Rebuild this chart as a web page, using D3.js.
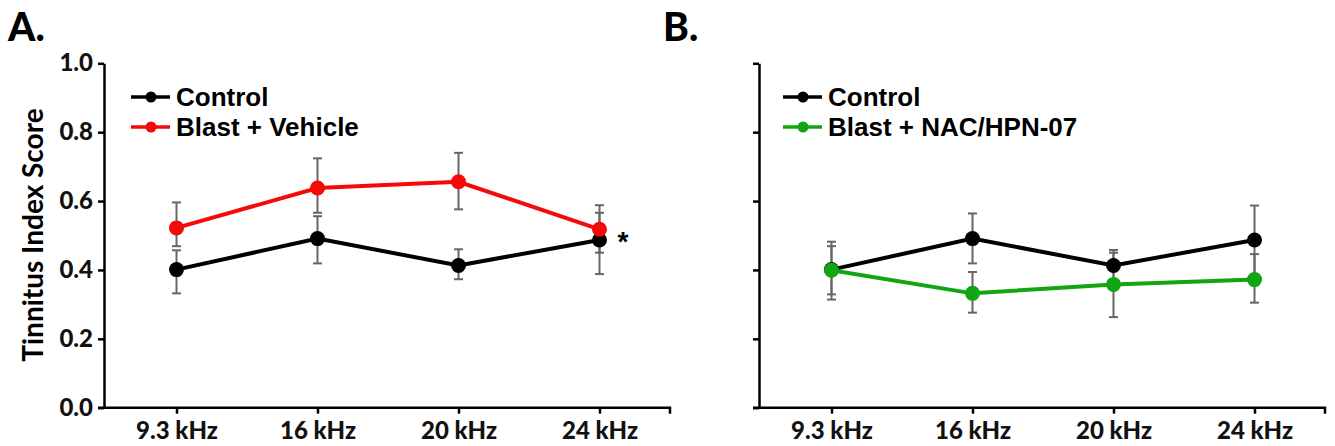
<!DOCTYPE html>
<html>
	<head>
		<meta charset="utf-8">
		<title>Tinnitus Index Score</title>
		<script src="https://d3js.org/d3.v7.min.js"></script>
		<style>
			body { margin: 0; background: #fff; }
			.tick text { font-family: Lato, "DejaVu Sans", sans-serif; font-weight: 900; }
		</style>
	</head>
	<body>
		<div id="chart"></div>
	</body>
	<script>
		// values
		let freqs = ["9.3 kHz", "16 kHz", "20 kHz", "24 kHz"];
		let yTicks = [0, 0.2, 0.4, 0.6, 0.8, 1.0];

		let ctrlA = [0.401, 0.491, 0.413, 0.487];
		let ctrlAHi = [0.457, 0.556, 0.460, 0.566];
		let ctrlALo = [0.332, 0.419, 0.373, 0.388];
		let vehA = [0.522, 0.638, 0.656, 0.518];
		let vehAHi = [0.596, 0.724, 0.740, 0.588];
		let vehALo = [0.469, 0.566, 0.576, 0.450];

		let ctrlB = [0.401, 0.491, 0.413, 0.487];
		let ctrlBHi = [0.469, 0.564, 0.458, 0.587];
		let ctrlBLo = [0.329, 0.419, 0.370, 0.387];
		let nacB = [0.399, 0.332, 0.358, 0.372];
		let nacBHi = [0.482, 0.394, 0.450, 0.446];
		let nacBLo = [0.314, 0.276, 0.263, 0.305];

		var width = 1335, height = 446;
		var svg = d3.select("#chart").append("svg")
			.attr("width", width)
			.attr("height", height);

		var y = d3.scaleLinear().domain([0, 1]).range([407.7, 63.3]);

		function drawPanel(x0, letter, series, showLabels, legendX){
			var x = d3.scalePoint().domain(freqs).range([x0 + 2, x0 + 566]).padding(0.5);
			var g = svg.append("g");

			// panel letter
			svg.append("text")
				.attr("x", x0 - 96)
				.attr("y", 41)
				.attr("font-family", "Lato, sans-serif")
				.attr("font-weight", 900)
				.attr("font-size", 39)
				.text(letter);

			// x axis
			var xa = g.append("g")
				.attr("transform", "translate(0," + y(0) + ")")
				.call(d3.axisBottom(x).tickSize(6).tickPadding(8));
			xa.select(".domain").attr("d", "M" + (x0 - 6) + ",0H" + (x0 + 566) + "V6");
			xa.selectAll("path, line").attr("stroke", "#000").attr("stroke-width", 2.5);
			xa.selectAll("text").attr("font-size", 24).attr("fill", "#111");

			// y axis
			var ya = g.append("g")
				.attr("transform", "translate(" + x0 + ",0)")
				.call(d3.axisLeft(y).tickValues(yTicks).tickSize(6).tickSizeOuter(0).tickPadding(5)
					.tickFormat(showLabels ? d3.format(".1f") : ""));
			ya.selectAll("path, line").attr("stroke", "#000").attr("stroke-width", 2.5);
			ya.selectAll("text").attr("font-size", 24).attr("fill", "#111");

			var line = d3.line()
				.x(function(d, i){ return x(freqs[i]); })
				.y(function(d){ return y(d); });

			// error bars
			series.forEach(function(s){
				var eb = g.selectAll(null).data(s.values).enter().append("g")
					.attr("stroke", "#666")
					.attr("stroke-width", 2);
				eb.append("line")
					.attr("x1", function(d, i){ return x(freqs[i]); })
					.attr("x2", function(d, i){ return x(freqs[i]); })
					.attr("y1", function(d, i){ return y(s.hi[i]); })
					.attr("y2", function(d, i){ return y(s.lo[i]); });
				eb.append("line")
					.attr("x1", function(d, i){ return x(freqs[i]) - 4.5; })
					.attr("x2", function(d, i){ return x(freqs[i]) + 4.5; })
					.attr("y1", function(d, i){ return y(s.hi[i]); })
					.attr("y2", function(d, i){ return y(s.hi[i]); });
				eb.append("line")
					.attr("x1", function(d, i){ return x(freqs[i]) - 4.5; })
					.attr("x2", function(d, i){ return x(freqs[i]) + 4.5; })
					.attr("y1", function(d, i){ return y(s.lo[i]); })
					.attr("y2", function(d, i){ return y(s.lo[i]); });
			});

			// lines + markers
			series.forEach(function(s){
				g.append("path")
					.datum(s.values)
					.attr("fill", "none")
					.attr("stroke", s.color)
					.attr("stroke-width", 4)
					.attr("d", line);
				g.selectAll(null).data(s.values).enter().append("circle")
					.attr("cx", function(d, i){ return x(freqs[i]); })
					.attr("cy", function(d){ return y(d); })
					.attr("r", 7.5)
					.attr("fill", s.color);
			});

			// legend
			var leg = g.selectAll(null).data(series).enter().append("g")
				.attr("transform", function(d, i){ return "translate(" + legendX + "," + (97 + i * 30) + ")"; });
			leg.append("line")
				.attr("x1", 0).attr("x2", 39)
				.attr("stroke", function(d){ return d.color; })
				.attr("stroke-width", 3.5);
			leg.append("circle")
				.attr("cx", 20).attr("r", 5.5)
				.attr("fill", function(d){ return d.color; });
			leg.append("text")
				.attr("x", 45)
				.attr("y", 9)
				.attr("font-family", "'Liberation Sans', Arial, sans-serif")
				.attr("font-weight", "bold")
				.attr("font-size", 26)
				.text(function(d){ return d.name; });
			return x;
		}

		var xA = drawPanel(104, "A.", [
			{name: "Control", color: "#000", values: ctrlA, hi: ctrlAHi, lo: ctrlALo},
			{name: "Blast + Vehicle", color: "#f50a0a", values: vehA, hi: vehAHi, lo: vehALo}
		], true, 131);

		drawPanel(759, "B.", [
			{name: "Control", color: "#000", values: ctrlB, hi: ctrlBHi, lo: ctrlBLo},
			{name: "Blast + NAC/HPN-07", color: "#12a512", values: nacB, hi: nacBHi, lo: nacBLo}
		], false, 783);

		// significance mark
		svg.append("text")
			.attr("x", xA(freqs[3]) + 18)
			.attr("y", y(vehA[3]) + 22)
			.attr("font-family", "'Liberation Sans', Arial, sans-serif")
			.attr("font-weight", "bold")
			.attr("font-size", 28)
			.text("*");

		// y axis title
		svg.append("text")
			.attr("transform", "translate(43,235) rotate(-90)")
			.attr("text-anchor", "middle")
			.attr("font-family", "Lato, sans-serif")
			.attr("font-weight", "bold")
			.attr("font-size", 28)
			.text("Tinnitus Index Score");
	</script>
</html>
